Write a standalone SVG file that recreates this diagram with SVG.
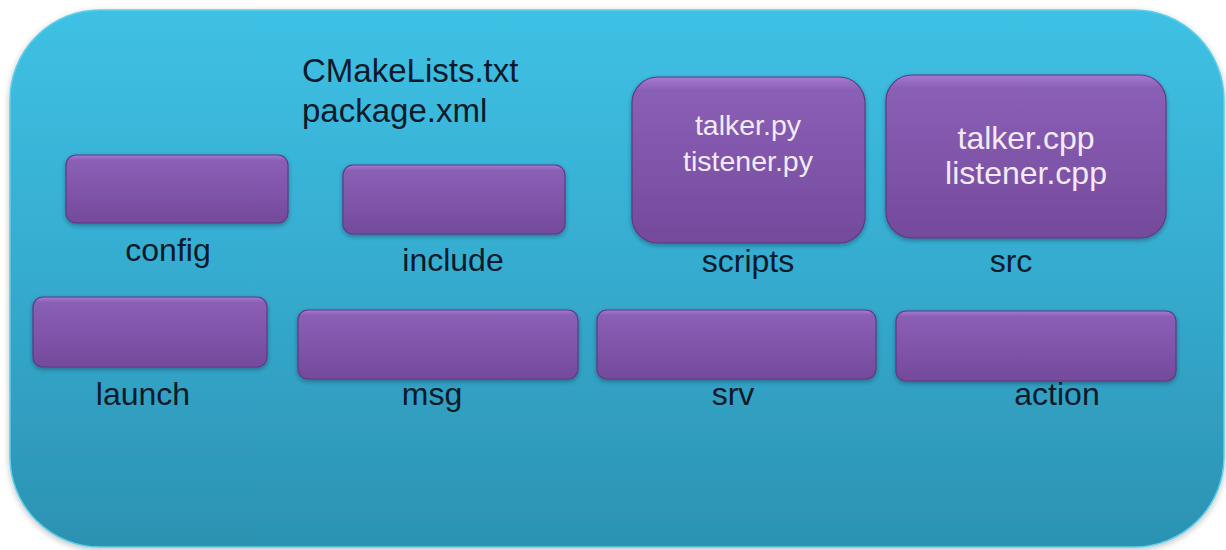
<svg xmlns="http://www.w3.org/2000/svg" width="1226" height="550" viewBox="0 0 1226 550">
  <defs>
    <linearGradient id="panelFill" x1="0" y1="0" x2="0" y2="1">
      <stop offset="0" stop-color="#3ec1e4"/>
      <stop offset="0.5" stop-color="#35abcf"/>
      <stop offset="1" stop-color="#2c92b2"/>
    </linearGradient>
    <linearGradient id="boxFill" x1="0" y1="0" x2="0" y2="1">
      <stop offset="0" stop-color="#a57ad0"/>
      <stop offset="0.08" stop-color="#8a5fb6"/>
      <stop offset="1" stop-color="#744a9c"/>
    </linearGradient>
    <filter id="boxShadow" x="-10%" y="-10%" width="120%" height="130%">
      <feGaussianBlur in="SourceAlpha" stdDeviation="2"/>
      <feOffset dx="0" dy="2" result="b"/>
      <feFlood flood-color="#1a2a40" flood-opacity="0.45"/>
      <feComposite in2="b" operator="in"/>
      <feMerge><feMergeNode/><feMergeNode in="SourceGraphic"/></feMerge>
    </filter>
    <filter id="panelShadow" x="-5%" y="-5%" width="110%" height="110%">
      <feGaussianBlur in="SourceAlpha" stdDeviation="3"/>
      <feOffset dx="0" dy="2" result="b"/>
      <feFlood flood-color="#000" flood-opacity="0.25"/>
      <feComposite in2="b" operator="in"/>
      <feMerge><feMergeNode/><feMergeNode in="SourceGraphic"/></feMerge>
    </filter>
  </defs>
  <style>
    .box { fill: url(#boxFill); stroke: #5e3a82; stroke-width: 1.2; filter: url(#boxShadow); }
    .label { font-family: "Liberation Sans", Arial, sans-serif; font-size: 32px; fill: #0c1a2a; text-anchor: middle; }
    .inner { font-family: "Liberation Sans", Arial, sans-serif; fill: #f3eaf7; text-anchor: middle; }
    .files { font-family: "Liberation Sans", Arial, sans-serif; font-size: 33px; fill: #0c1a2a; }
  </style>

  <rect width="1226" height="550" fill="#ffffff"/>

  <!-- package panel -->
  <g id="package">
    <rect x="10" y="10" width="1214" height="537" rx="90" ry="90" fill="url(#panelFill)" stroke="#5fcde8" stroke-width="1.5" filter="url(#panelShadow)"/>
    <text class="files" x="302" y="82">CMakeLists.txt</text>
    <text class="files" x="302" y="122">package.xml</text>
  </g>

  <g id="config">
    <rect class="box" x="66" y="155" width="222" height="68" rx="10"/>
    <text class="label" x="168" y="261">config</text>
  </g>

  <g id="include">
    <rect class="box" x="343" y="165" width="222" height="69" rx="10"/>
    <text class="label" x="453" y="271">include</text>
  </g>

  <g id="scripts">
    <rect class="box" x="632" y="77" width="233" height="166" rx="26"/>
    <text class="inner" x="748" y="135" font-size="28.5">talker.py</text>
    <text class="inner" x="748" y="171" font-size="28.5">tistener.py</text>
    <text class="label" x="748" y="272">scripts</text>
  </g>

  <g id="src">
    <rect class="box" x="886" y="75" width="280" height="163" rx="26"/>
    <text class="inner" x="1026" y="149" font-size="32">talker.cpp</text>
    <text class="inner" x="1026" y="184" font-size="32">listener.cpp</text>
    <text class="label" x="1011" y="272">src</text>
  </g>

  <g id="launch">
    <rect class="box" x="33" y="297" width="234" height="70" rx="10"/>
    <text class="label" x="143" y="405">launch</text>
  </g>

  <g id="msg">
    <rect class="box" x="298" y="310" width="280" height="69" rx="10"/>
    <text class="label" x="432" y="405">msg</text>
  </g>

  <g id="srv">
    <rect class="box" x="597" y="310" width="279" height="69" rx="10"/>
    <text class="label" x="733" y="405">srv</text>
  </g>

  <g id="action">
    <rect class="box" x="896" y="311" width="280" height="70" rx="10"/>
    <text class="label" x="1057" y="405">action</text>
  </g>

  <!-- no connectors in this layout -->
  <g id="connectors"/>
</svg>
